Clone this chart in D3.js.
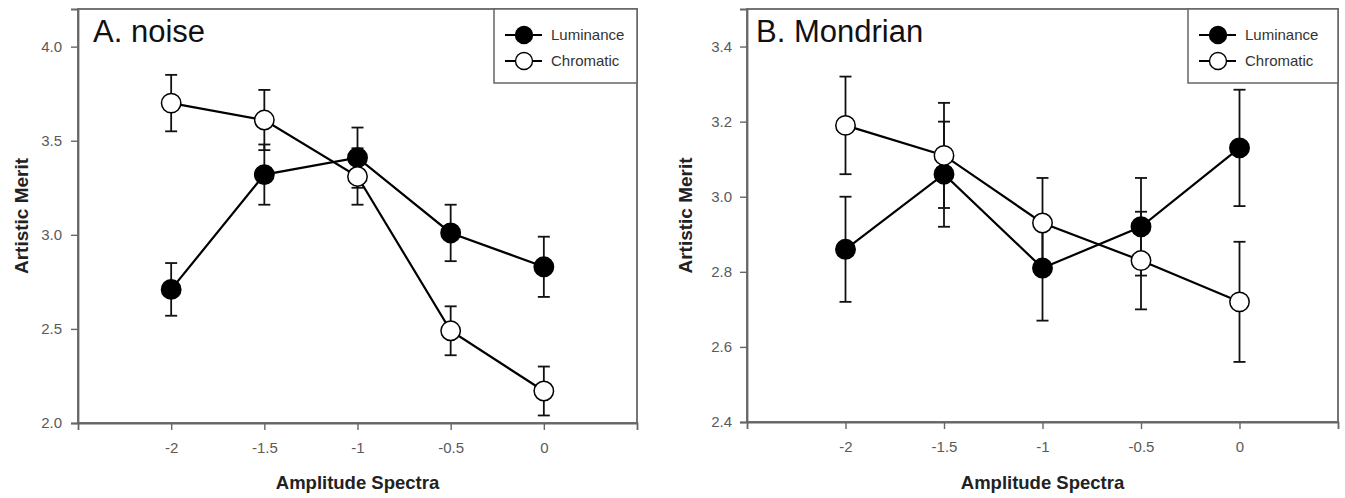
<!DOCTYPE html>
<html>
<head>
<meta charset="utf-8">
<script src="https://cdn.jsdelivr.net/npm/d3@7"></script>
<style>
  html, body { margin: 0; padding: 0; background: #fff; }
  svg { display: block; font-family: "Liberation Sans", Arial, sans-serif; }
</style>
</head>
<body>
<svg id="chart" width="1345" height="498"></svg>
<script>
// Amplitude spectrum slopes shown on the x axis
const amplitudes = [-2, -1.5, -1, -0.5, 0];
const xTickValues = [-2, -1.5, -1, -0.5, 0];

// Panel A: noise images (mean rating and standard error)
const noiseLuminance = [2.71, 3.32, 3.41, 3.01, 2.83];
const noiseLuminanceSE = [0.14, 0.16, 0.16, 0.15, 0.16];
const noiseChromatic = [3.70, 3.61, 3.31, 2.49, 2.17];
const noiseChromaticSE = [0.15, 0.16, 0.15, 0.13, 0.13];
const noiseYTicks = [2.0, 2.5, 3.0, 3.5, 4.0];

// Panel B: Mondrian images
const mondrianLuminance = [2.86, 3.06, 2.81, 2.92, 3.13];
const mondrianLuminanceSE = [0.14, 0.14, 0.14, 0.13, 0.155];
const mondrianChromatic = [3.19, 3.11, 2.93, 2.83, 2.72];
const mondrianChromaticSE = [0.13, 0.14, 0.12, 0.13, 0.16];
const mondrianYTicks = [2.4, 2.6, 2.8, 3.0, 3.2, 3.4];

const seriesNames = ["Luminance", "Chromatic"];
const seriesFill = { Luminance: "#000", Chromatic: "#fff" };

const svg = d3.select("#chart");

function drawPanel(cfg) {
  const g = svg.append("g");
  const x = d3.scaleLinear().domain([-2.5, 0.5]).range([cfg.left, cfg.right]);
  const y = d3.scaleLinear().domain(cfg.yDomain).range([cfg.bottom, cfg.top]);

  // frame
  g.append("rect")
    .attr("x", cfg.left).attr("y", cfg.top)
    .attr("width", cfg.right - cfg.left).attr("height", cfg.bottom - cfg.top)
    .attr("fill", "none").attr("stroke", "#666").attr("stroke-width", 1.8);

  // axes
  const yAxis = d3.axisLeft(y).tickValues(cfg.yTicks).tickFormat(d3.format(".1f"))
    .tickSize(7).tickPadding(cfg.yPad);
  const xAxis = d3.axisBottom(x).tickValues(xTickValues).tickFormat(d => d3.format("")(d).replace("−", "-"))
    .tickSize(7).tickPadding(12);

  const ya = g.append("g").attr("transform", `translate(${cfg.left},0)`).call(yAxis);
  const xa = g.append("g").attr("transform", `translate(0,${cfg.bottom})`).call(xAxis);
  [ya, xa].forEach(a => {
    a.attr("font-size", null).attr("font-family", null);
    a.select(".domain").attr("stroke", "#666").attr("stroke-width", 1.8);
    a.selectAll(".tick line").attr("stroke", "#666").attr("stroke-width", 1.4);
    a.selectAll(".tick text").attr("fill", "#5a5a5a").attr("font-size", "15px");
  });

  // axis titles
  g.append("text")
    .attr("transform", `translate(${cfg.yLabelX},${(cfg.top + cfg.bottom) / 2}) rotate(-90)`)
    .attr("text-anchor", "middle").attr("dy", "0.35em")
    .attr("font-weight", "bold").attr("font-size", "19px").attr("fill", "#222")
    .text("Artistic Merit");
  g.append("text")
    .attr("x", (cfg.left + cfg.right) / 2).attr("y", 489)
    .attr("text-anchor", "middle")
    .attr("font-weight", "bold").attr("font-size", "18.5px").attr("fill", "#222")
    .text("Amplitude Spectra");

  // panel title
  g.append("text")
    .attr("x", cfg.titleX).attr("y", 42)
    .attr("font-size", "31px").attr("fill", "#111")
    .text(cfg.title);

  const line = d3.line().x(d => x(d.x)).y(d => y(d.y));

  cfg.series.forEach(s => {
    const pts = amplitudes.map((a, i) => ({ x: a, y: s.values[i], se: s.se[i] }));
    const sg = g.append("g");
    sg.append("path").datum(pts).attr("d", line)
      .attr("fill", "none").attr("stroke", "#000").attr("stroke-width", 2.2);
    const eb = sg.selectAll(".eb").data(pts).join("g");
    eb.append("line")
      .attr("x1", d => x(d.x)).attr("x2", d => x(d.x))
      .attr("y1", d => y(d.y - d.se)).attr("y2", d => y(d.y + d.se))
      .attr("stroke", "#111").attr("stroke-width", 1.8);
    [-1, 1].forEach(sign => {
      eb.append("line")
        .attr("x1", d => x(d.x) - 6).attr("x2", d => x(d.x) + 6)
        .attr("y1", d => y(d.y + sign * d.se)).attr("y2", d => y(d.y + sign * d.se))
        .attr("stroke", "#111").attr("stroke-width", 1.8);
    });
  });
  cfg.series.forEach(s => {
    g.selectAll(null)
      .data(amplitudes.map((a, i) => ({ x: a, y: s.values[i] })))
      .join("circle")
      .attr("cx", d => x(d.x)).attr("cy", d => y(d.y)).attr("r", 9.7)
      .attr("fill", seriesFill[s.name]).attr("stroke", "#000").attr("stroke-width", 1.5);
  });

  // legend
  const lg = g.append("g");
  lg.append("rect")
    .attr("x", cfg.legendX).attr("y", cfg.top)
    .attr("width", cfg.right - cfg.legendX).attr("height", 74)
    .attr("fill", "#fff").attr("stroke", "#666").attr("stroke-width", 1.5);
  seriesNames.forEach((name, i) => {
    const cy = cfg.top + 26 + i * 26;
    const cx = cfg.legendX + 30;
    lg.append("line").attr("x1", cx - 19).attr("x2", cx + 18).attr("y1", cy).attr("y2", cy)
      .attr("stroke", "#000").attr("stroke-width", 2);
    lg.append("circle").attr("cx", cx).attr("cy", cy).attr("r", 8.5)
      .attr("fill", seriesFill[name]).attr("stroke", "#000").attr("stroke-width", 1.4);
    lg.append("text").attr("x", cx + 27).attr("y", cy).attr("dy", "0.35em")
      .attr("font-size", "15px").attr("fill", "#333").text(name);
  });
}

drawPanel({
  left: 78, right: 637, top: 9, bottom: 423,
  yDomain: [2.0, 4.2], yTicks: noiseYTicks, yPad: 9,
  yLabelX: 21, titleX: 93, title: "A. noise", legendX: 494,
  series: [
    { name: "Luminance", values: noiseLuminance, se: noiseLuminanceSE },
    { name: "Chromatic", values: noiseChromatic, se: noiseChromaticSE }
  ]
});

drawPanel({
  left: 747, right: 1338, top: 9, bottom: 422,
  yDomain: [2.4, 3.5], yTicks: mondrianYTicks, yPad: 8,
  yLabelX: 685, titleX: 756, title: "B. Mondrian", legendX: 1188,
  series: [
    { name: "Luminance", values: mondrianLuminance, se: mondrianLuminanceSE },
    { name: "Chromatic", values: mondrianChromatic, se: mondrianChromaticSE }
  ]
});
</script>
</body>
</html>
